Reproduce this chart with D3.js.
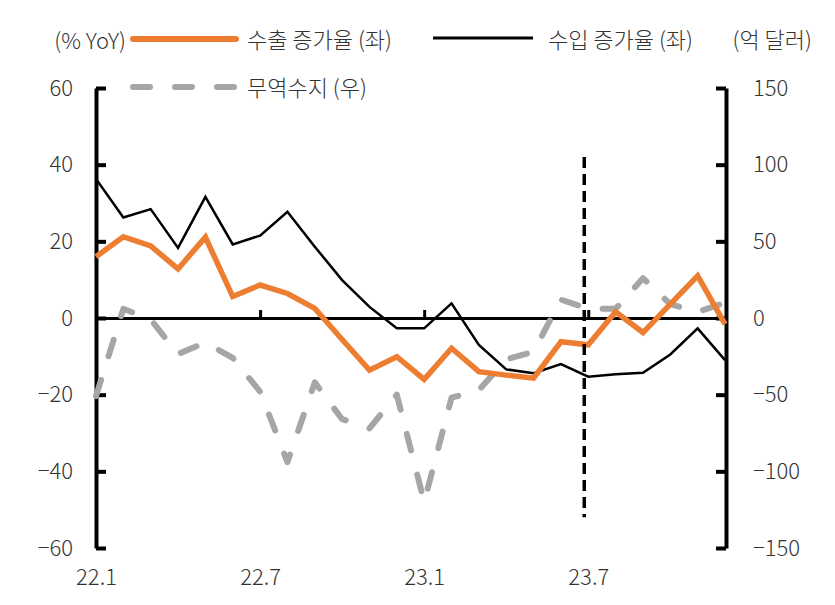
<!DOCTYPE html>
<html><head><meta charset="utf-8">
<script src="https://cdn.jsdelivr.net/npm/d3@7"></script>
<style>
html,body{margin:0;padding:0;background:#fff;}
svg text{font-family:"Noto Sans CJK KR","Noto Sans",sans-serif;fill:#333;font-weight:300;}
</style></head>
<body>
<svg id="c" width="835" height="605"></svg>
<script>
const months = ['22.1','22.2','22.3','22.4','22.5','22.6','22.7','22.8','22.9','22.10','22.11','22.12',
                '23.1','23.2','23.3','23.4','23.5','23.6','23.7','23.8','23.9','23.10','23.11','23.12'];
const tickMonths = ['22.1','22.7','23.1','23.7'];
const exportGrowth = [16.0,21.2,18.8,12.8,21.1,5.6,8.6,6.4,2.5,-5.6,-13.6,-10.1,-16.0,-7.9,-14.0,-14.9,-15.7,-6.2,-7.0,1.6,-3.8,3.6,11.0,-1.6];
const importGrowth = [36.3,26.2,28.4,18.3,31.6,19.2,21.5,27.7,18.6,9.9,2.9,-2.7,-2.7,3.8,-7.0,-13.4,-14.4,-12.0,-15.3,-14.7,-14.3,-9.5,-2.7,-11.0];
const tradeBalance = [-51,6,-1,-23.5,-16,-26,-48,-94,-42,-66,-72,-50,-120,-52,-47,-27,-22,12,6,6,26,9,4,10];
const leftTicks = [-60,-40,-20,0,20,40,60];
const rightTicks = [-150,-100,-50,0,50,100,150];
const markerMonth = '23.7';
const markerRange = [42,-52];

const svg = d3.select('#c');
const x = d3.scalePoint().domain(months).range([96,725]);
const yL = d3.scaleLinear().domain([-60,60]).range([548,88]);
const yR = d3.scaleLinear().domain([-150,150]).range([548,88]);

// left axis
const gL = svg.append('g').attr('transform','translate(96,0)')
  .call(d3.axisLeft(yL).tickValues(leftTicks).tickSizeInner(-10).tickSizeOuter(0).tickPadding(23)
        .tickFormat(d=> d<0 ? '\u2212'+Math.abs(d) : d));
gL.select('.domain').attr('stroke','#000').attr('stroke-width',4);
gL.selectAll('.tick line').attr('stroke','#000').attr('stroke-width',4);
gL.selectAll('.tick text').style('font-size','22px').attr('fill','#333');

// right axis
const gR = svg.append('g').attr('transform','translate(726,0)')
  .call(d3.axisRight(yR).tickValues(rightTicks).tickSizeInner(-10).tickSizeOuter(0).tickPadding(27)
        .tickFormat(d=> d<0 ? '\u2212'+Math.abs(d) : d));
gR.select('.domain').attr('stroke','#000').attr('stroke-width',4);
gR.selectAll('.tick line').attr('stroke','#000').attr('stroke-width',4);
gR.selectAll('.tick text').style('font-size','22px').attr('fill','#333');

// zero line with month ticks
const gZ = svg.append('g').attr('transform',`translate(0,${yL(0)})`)
  .call(d3.axisBottom(x).tickValues(tickMonths).tickSizeInner(-8).tickSizeOuter(0).tickFormat(''));
gZ.select('.domain').attr('stroke','#000').attr('stroke-width',3);
gZ.selectAll('.tick line').attr('stroke','#000').attr('stroke-width',3);

// bottom labels
const gB = svg.append('g').attr('transform',`translate(0,${yL(-60)})`)
  .call(d3.axisBottom(x).tickValues(tickMonths).tickSize(0).tickPadding(21));
gB.select('.domain').remove();
gB.selectAll('.tick text').style('font-size','22px').attr('fill','#333');

// lines
const lineR = d3.line().x((d,i)=>x(months[i])).y(d=>yR(d));
const lineL = d3.line().x((d,i)=>x(months[i])).y(d=>yL(d));

svg.append('path').datum(tradeBalance).attr('d',lineR).attr('fill','none')
  .attr('stroke','#A6A6A6').attr('stroke-width',6).attr('stroke-linecap','round')
  .attr('stroke-linejoin','round').attr('stroke-dasharray','17,25');
svg.append('path').datum(importGrowth).attr('d',lineL).attr('fill','none')
  .attr('stroke','#000').attr('stroke-width',2.5).attr('stroke-linejoin','miter');
svg.append('path').datum(exportGrowth).attr('d',lineL).attr('fill','none')
  .attr('stroke','#ED7D31').attr('stroke-width',5.5).attr('stroke-linejoin','miter');

// vertical dashed marker
svg.append('line').attr('x1',x(markerMonth)-4).attr('x2',x(markerMonth)-4)
  .attr('y1',yL(markerRange[0])).attr('y2',yL(markerRange[1]))
  .attr('stroke','#000').attr('stroke-width',3.5).attr('stroke-dasharray','11,6');

// legend
const lg = svg.append('g');
lg.append('text').attr('x',126).attr('y',39).attr('text-anchor','end').attr('dominant-baseline','central')
  .style('font-size','22px').text('(% YoY)');
lg.append('line').attr('x1',133).attr('x2',236).attr('y1',39).attr('y2',39)
  .attr('stroke','#ED7D31').attr('stroke-width',6).attr('stroke-linecap','round');
lg.append('text').attr('x',247).attr('y',38).attr('dominant-baseline','central')
  .style('font-size','22px').text('수출 증가율 (좌)');
lg.append('line').attr('x1',433).attr('x2',533).attr('y1',38).attr('y2',38)
  .attr('stroke','#000').attr('stroke-width',3);
lg.append('text').attr('x',548).attr('y',38).attr('dominant-baseline','central')
  .style('font-size','22px').text('수입 증가율 (좌)');
lg.append('text').attr('x',812).attr('y',38).attr('text-anchor','end').attr('dominant-baseline','central')
  .style('font-size','22px').text('(억 달러)');
lg.append('line').attr('x1',133).attr('x2',236).attr('y1',87).attr('y2',87)
  .attr('stroke','#A6A6A6').attr('stroke-width',6).attr('stroke-linecap','round').attr('stroke-dasharray','17,25');
lg.append('text').attr('x',247).attr('y',86).attr('dominant-baseline','central')
  .style('font-size','22px').text('무역수지 (우)');
</script>
</body></html>
